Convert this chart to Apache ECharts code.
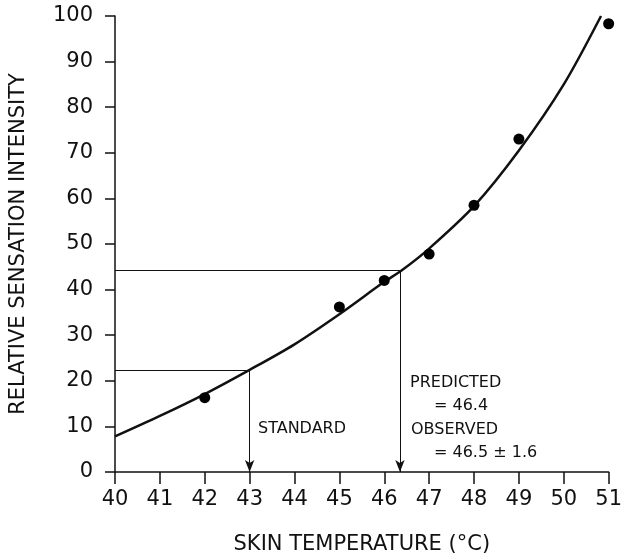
<!DOCTYPE html>
<html>
<head>
<meta charset="utf-8">
<script src="https://cdn.jsdelivr.net/npm/echarts@6/dist/echarts.min.js"></script>
<style>
  html, body { margin: 0; padding: 0; background: #fff; }
  #chart { width: 625px; height: 560px; }
</style>
</head>
<body>
<div id="chart"></div>
<script>
// measured points
const pointTemps = [42, 45, 46, 47, 48, 49, 51];
const pointIntensity = [16.3, 36.2, 42, 47.8, 58.5, 73, 98.3];

// fitted curve
const curveTemps = [40, 41, 42, 43, 44, 45, 46, 46.4, 47, 48, 49, 50, 50.83];
const curveIntensity = [7.8, 12.3, 17.1, 22.4, 28, 34.6, 41.7, 44.3, 49, 58.3, 70.5, 85, 100];

// guide lines
const standardTemp = 43;
const standardIntensity = 22.4;
const predictedTemp = 46.35;
const predictedIntensity = 44.3;

const xTicks = [40, 41, 42, 43, 44, 45, 46, 47, 48, 49, 50, 51];

const font = 'DejaVu Sans';
const ink = '#111';

const chart = echarts.init(document.getElementById('chart'));

const guideStyle = { color: ink, width: 1, type: 'solid', opacity: 1 };
const noteFont = '16px DejaVu Sans';

chart.setOption({
  animation: false,
  grid: { left: 112, right: 8, top: 16, bottom: 84 },
  xAxis: {
    type: 'value',
    min: 40,
    max: 51,
    interval: 1,
    name: 'SKIN TEMPERATURE (°C)',
    nameLocation: 'middle',
    nameGap: 62,
    nameTextStyle: { fontFamily: font, fontSize: 21, color: ink },
    axisLine: { onZero: false, lineStyle: { color: ink, width: 1.5 } },
    axisTick: { show: true, length: 12, lineStyle: { color: ink, width: 1.5 } },
    axisLabel: {
      fontFamily: font, fontSize: 21, color: ink, margin: 17,
      formatter: v => xTicks.includes(v) ? String(v) : ''
    },
    splitLine: { show: false }
  },
  yAxis: {
    type: 'value',
    min: 0,
    max: 100,
    interval: 10,
    name: 'RELATIVE SENSATION INTENSITY',
    nameLocation: 'middle',
    nameGap: 86,
    nameTextStyle: { fontFamily: font, fontSize: 21, color: ink },
    axisLine: { show: true, lineStyle: { color: ink, width: 1.5 } },
    axisTick: { show: true, length: 10, lineStyle: { color: ink, width: 1.5 } },
    axisLabel: { fontFamily: font, fontSize: 21, color: ink, margin: 22 },
    splitLine: { show: false }
  },
  series: [
    {
      type: 'line',
      data: curveTemps.map((t, i) => [t, curveIntensity[i]]),
      smooth: 0.3,
      showSymbol: false,
      lineStyle: { color: ink, width: 2.5 },
      z: 3,
      markLine: {
        silent: true,
        symbol: ['none', 'none'],
        label: { show: false },
        lineStyle: guideStyle,
        data: [
          [{ coord: [40, standardIntensity] }, { coord: [standardTemp, standardIntensity] }],
          [{ coord: [40, predictedIntensity] }, { coord: [predictedTemp, predictedIntensity] }],
          [{ coord: [standardTemp, standardIntensity], symbol: 'none' },
           { coord: [standardTemp, 0], symbol: 'arrow', symbolSize: [7, 12] }],
          [{ coord: [predictedTemp, predictedIntensity], symbol: 'none' },
           { coord: [predictedTemp, 0], symbol: 'arrow', symbolSize: [7, 12] }]
        ]
      }
    },
    {
      type: 'scatter',
      data: pointTemps.map((t, i) => [t, pointIntensity[i]]),
      symbolSize: 11,
      itemStyle: { color: '#000', opacity: 1 },
      z: 4
    }
  ],
  graphic: [
    { type: 'text', left: 258, top: 421, style: { text: 'STANDARD', font: noteFont, fill: ink } },
    { type: 'text', left: 410, top: 375, style: { text: 'PREDICTED', font: noteFont, fill: ink } },
    { type: 'text', left: 434, top: 398, style: { text: '= 46.4', font: noteFont, fill: ink } },
    { type: 'text', left: 411, top: 422, style: { text: 'OBSERVED', font: noteFont, fill: ink } },
    { type: 'text', left: 434, top: 445, style: { text: '= 46.5 ± 1.6', font: noteFont, fill: ink } }
  ]
});
</script>
</body>
</html>
